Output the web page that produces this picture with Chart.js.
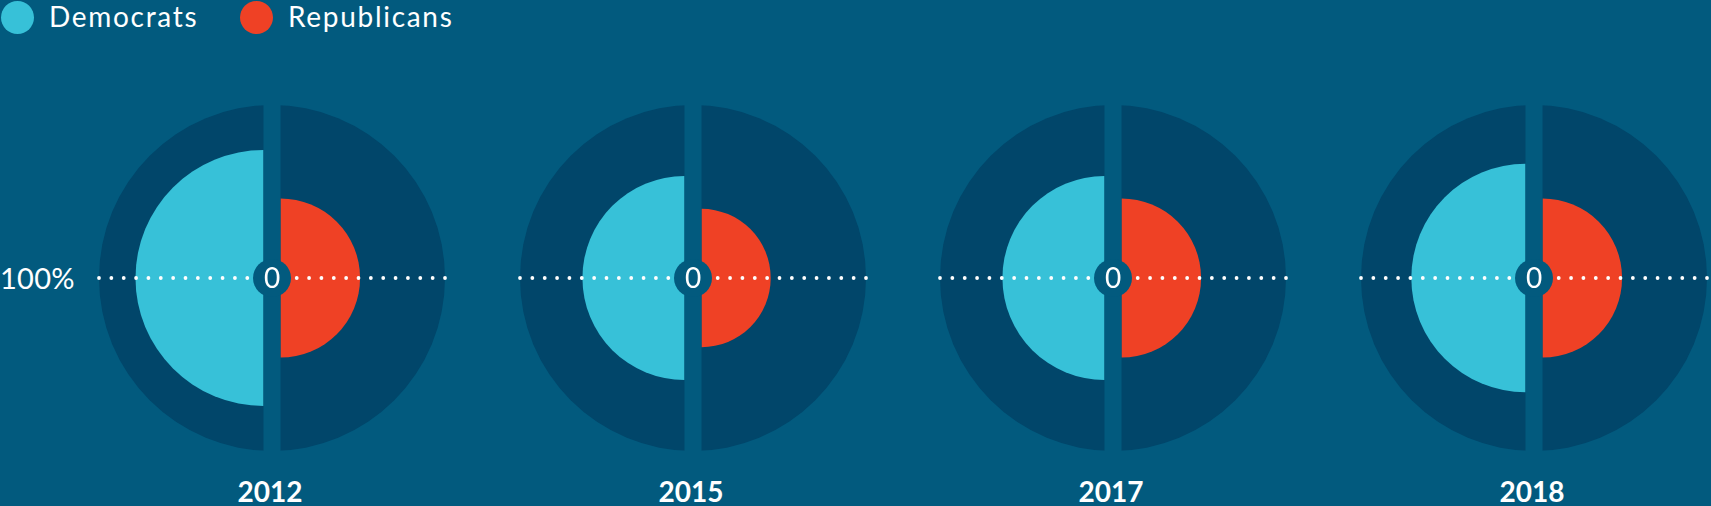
<!DOCTYPE html>
<html>
<head>
<meta charset="utf-8">
<script src="https://cdn.jsdelivr.net/npm/chart.js@4"></script>
<style>
  html, body {
    margin: 0;
    padding: 0;
    width: 1711px;
    height: 506px;
    overflow: hidden;
    background: #025a7e;
    font-family: Lato, "Open Sans", sans-serif;
    color: #ffffff;
  }
  #stage { position: relative; width: 1711px; height: 506px; }
  .chart-box { position: absolute; top: 105px; width: 360px; height: 347px; }
  .legend-dot { position: absolute; top: 1px; width: 33px; height: 33px; border-radius: 50%; }
  .legend-text { position: absolute; top: 2px; font-size: 28px; line-height: 28px; letter-spacing: 1.7px; white-space: nowrap; }
  .axis-label { position: absolute; left: 0; top: 263px; font-size: 29px; line-height: 29px; letter-spacing: 0.3px; }
  .year { position: absolute; top: 477px; width: 120px; text-align: center; font-size: 28px; line-height: 28px; font-weight: 700; }
</style>
</head>
<body>
<div id="stage"></div>
<script>
// values, share of the 100% outer ring
const years = ['2012', '2015', '2017', '2018'];
const parties = ['Democrats', 'Republicans'];
const democrats = [74, 59, 59, 66];
const republicans = [46, 40, 46, 46];
const scaleMax = 100;
const tickLabels = ['0', '100%'];

const colors = {
    bg: '#025a7e',
    ring: '#01466a',
    dem: '#37c1d8',
    rep: '#ef4125'
};

// layout only
const chartLeft = [92, 513, 933, 1354];
const legendDotX = [1, 240];
const legendTextX = [49, 288];
const halfGap = 8.5;

const stage = document.getElementById('stage');

// push each half away from the middle line, like the original
const splitHalves = {
    id: 'splitHalves',
    beforeDatasetDraw(chart, args) {
        if (args.index !== 0) {
            return;
        }
        const ctx = chart.ctx;
        args.meta.data.forEach(arc => {
            const mid = (arc.startAngle + arc.endAngle) / 2;
            ctx.save();
            ctx.translate(Math.cos(mid) * halfGap, Math.sin(mid) * halfGap);
            arc.draw(ctx, chart.chartArea);
            ctx.restore();
        });
        return false;
    }
};

// gap stripe, dotted baseline and the "0" badge in the middle
const overlay = {
    id: 'overlay',
    afterDatasetsDraw(chart) {
        const ctx = chart.ctx;
        const r = chart.scales.r;
        const xc = r.xCenter;
        const yc = r.yCenter;
        const R = r.getDistanceFromCenterForValue(scaleMax);

        ctx.save();
        ctx.fillStyle = colors.bg;
        ctx.fillRect(xc - halfGap, 0, halfGap * 2, chart.height);

        ctx.fillStyle = '#ffffff';
        const n = 28;
        for (let i = 0; i <= n; i++) {
            ctx.beginPath();
            ctx.arc(xc - R + (2 * R * i) / n, yc, 1.9, 0, Math.PI * 2);
            ctx.fill();
        }

        ctx.fillStyle = colors.bg;
        ctx.beginPath();
        ctx.arc(xc, yc, 19, 0, Math.PI * 2);
        ctx.fill();

        ctx.fillStyle = '#ffffff';
        ctx.font = '28px Lato';
        ctx.textAlign = 'center';
        ctx.textBaseline = 'middle';
        ctx.fillText(tickLabels[0], xc, yc + 1);
        ctx.restore();
    }
};

function buildLegend() {
    parties.forEach((name, i) => {
        var dot = document.createElement('div');
        dot.className = 'legend-dot';
        dot.style.left = legendDotX[i] + 'px';
        dot.style.background = i === 0 ? colors.dem : colors.rep;
        stage.appendChild(dot);

        var txt = document.createElement('div');
        txt.className = 'legend-text';
        txt.style.left = legendTextX[i] + 'px';
        txt.textContent = name;
        stage.appendChild(txt);
    });

    var lbl = document.createElement('div');
    lbl.className = 'axis-label';
    lbl.textContent = tickLabels[1];
    stage.appendChild(lbl);
}

function buildYear(i) {
    var box = document.createElement('div');
    box.className = 'chart-box';
    box.style.left = chartLeft[i] + 'px';
    stage.appendChild(box);

    var canvas = document.createElement('canvas');
    canvas.width = 360;
    canvas.height = 347;
    box.appendChild(canvas);

    var label = document.createElement('div');
    label.className = 'year';
    label.style.left = (chartLeft[i] + 180 - 62) + 'px';
    label.textContent = years[i];
    stage.appendChild(label);

    new Chart(canvas.getContext('2d'), {
        type: 'polarArea',
        data: {
            labels: parties,
            datasets: [{
                label: years[i],
                data: [democrats[i], republicans[i]],
                backgroundColor: [colors.dem, colors.rep],
                borderWidth: 0,
                order: 1
            }, {
                label: 'scale',
                data: [scaleMax, scaleMax],
                backgroundColor: [colors.ring, colors.ring],
                borderWidth: 0,
                order: 2
            }]
        },
        options: {
            responsive: false,
            animation: false,
            devicePixelRatio: 1,
            layout: { padding: 0 },
            scales: {
                r: {
                    display: false,
                    min: 0,
                    max: scaleMax,
                    startAngle: 180
                }
            },
            plugins: {
                legend: { display: false },
                tooltip: { enabled: false }
            }
        },
        plugins: [splitHalves, overlay]
    });
}

buildLegend();
years.forEach((y, i) => buildYear(i));
</script>
</body>
</html>
